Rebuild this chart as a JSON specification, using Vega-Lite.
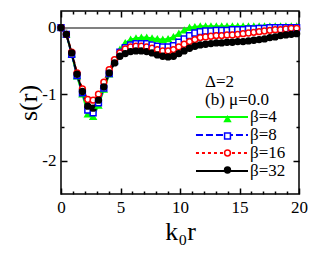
{
  "$schema": "https://vega.github.io/schema/vega-lite/v6.json",
  "width": 238,
  "height": 183,
  "autosize": "none",
  "padding": {"left": 61, "top": 11, "right": 12, "bottom": 78},
  "background": "white",
  "config": {
    "view": {"stroke": "black", "strokeWidth": 1.5},
    "axis": {"grid": false, "domain": false, "tickColor": "black", "tickWidth": 1.5, "labelFont": "Liberation Serif", "labelFontSize": 17, "labelColor": "black", "labelFlush": false, "titleFont": "Liberation Serif", "titleFontWeight": "normal", "titleColor": "black", "titleFontSize": 26},
    "legend": {"labelFont": "Liberation Serif", "titleFont": "Liberation Serif", "labelColor": "black", "titleColor": "black"}
  },
  "data": {"values": [
    {"k": 0, "β=4": 0, "β=8": 0, "β=16": 0, "β=32": 0},
    {"k": 0.45, "β=4": -0.1, "β=8": -0.1, "β=16": -0.1, "β=32": -0.1},
    {"k": 0.9, "β=4": -0.4, "β=8": -0.4, "β=16": -0.37, "β=32": -0.38},
    {"k": 1.35, "β=4": -0.73, "β=8": -0.72, "β=16": -0.68, "β=32": -0.7},
    {"k": 1.8, "β=4": -1.0, "β=8": -0.98, "β=16": -0.92, "β=32": -0.96},
    {"k": 2.25, "β=4": -1.3, "β=8": -1.24, "β=16": -1.08, "β=32": -1.18},
    {"k": 2.7, "β=4": -1.34, "β=8": -1.28, "β=16": -1.09, "β=32": -1.21},
    {"k": 3.15, "β=4": -1.17, "β=8": -1.13, "β=16": -1.0, "β=32": -1.09},
    {"k": 3.6, "β=4": -0.93, "β=8": -0.91, "β=16": -0.82, "β=32": -0.89},
    {"k": 4.05, "β=4": -0.7, "β=8": -0.69, "β=16": -0.63, "β=32": -0.68},
    {"k": 4.5, "β=4": -0.5, "β=8": -0.51, "β=16": -0.48, "β=32": -0.53},
    {"k": 4.95, "β=4": -0.33, "β=8": -0.37, "β=16": -0.38, "β=32": -0.43},
    {"k": 5.4, "β=4": -0.23, "β=8": -0.3, "β=16": -0.32, "β=32": -0.39},
    {"k": 5.85, "β=4": -0.18, "β=8": -0.26, "β=16": -0.29, "β=32": -0.36},
    {"k": 6.3, "β=4": -0.16, "β=8": -0.24, "β=16": -0.28, "β=32": -0.35},
    {"k": 6.75, "β=4": -0.15, "β=8": -0.24, "β=16": -0.28, "β=32": -0.35},
    {"k": 7.2, "β=4": -0.15, "β=8": -0.24, "β=16": -0.29, "β=32": -0.36},
    {"k": 7.65, "β=4": -0.16, "β=8": -0.26, "β=16": -0.31, "β=32": -0.38},
    {"k": 8.1, "β=4": -0.17, "β=8": -0.28, "β=16": -0.33, "β=32": -0.41},
    {"k": 8.55, "β=4": -0.18, "β=8": -0.29, "β=16": -0.35, "β=32": -0.43},
    {"k": 9.0, "β=4": -0.17, "β=8": -0.29, "β=16": -0.35, "β=32": -0.44},
    {"k": 9.45, "β=4": -0.14, "β=8": -0.27, "β=16": -0.33, "β=32": -0.43},
    {"k": 9.9, "β=4": -0.09, "β=8": -0.22, "β=16": -0.29, "β=32": -0.39},
    {"k": 10.35, "β=4": -0.04, "β=8": -0.17, "β=16": -0.25, "β=32": -0.35},
    {"k": 10.8, "β=4": 0.0, "β=8": -0.12, "β=16": -0.21, "β=32": -0.31},
    {"k": 11.25, "β=4": 0.01, "β=8": -0.08, "β=16": -0.18, "β=32": -0.28},
    {"k": 11.7, "β=4": 0.02, "β=8": -0.06, "β=16": -0.15, "β=32": -0.26},
    {"k": 12.15, "β=4": 0.02, "β=8": -0.05, "β=16": -0.14, "β=32": -0.25},
    {"k": 12.6, "β=4": 0.02, "β=8": -0.05, "β=16": -0.13, "β=32": -0.24},
    {"k": 13.05, "β=4": 0.02, "β=8": -0.04, "β=16": -0.12, "β=32": -0.23},
    {"k": 13.5, "β=4": 0.02, "β=8": -0.04, "β=16": -0.12, "β=32": -0.23},
    {"k": 13.95, "β=4": 0.02, "β=8": -0.04, "β=16": -0.11, "β=32": -0.22},
    {"k": 14.4, "β=4": 0.02, "β=8": -0.03, "β=16": -0.11, "β=32": -0.22},
    {"k": 14.85, "β=4": 0.02, "β=8": -0.03, "β=16": -0.1, "β=32": -0.21},
    {"k": 15.3, "β=4": 0.02, "β=8": -0.03, "β=16": -0.09, "β=32": -0.21},
    {"k": 15.75, "β=4": 0.02, "β=8": -0.02, "β=16": -0.08, "β=32": -0.2},
    {"k": 16.2, "β=4": 0.02, "β=8": -0.02, "β=16": -0.07, "β=32": -0.19},
    {"k": 16.65, "β=4": 0.02, "β=8": -0.01, "β=16": -0.06, "β=32": -0.18},
    {"k": 17.1, "β=4": 0.02, "β=8": -0.01, "β=16": -0.05, "β=32": -0.17},
    {"k": 17.55, "β=4": 0.02, "β=8": 0.0, "β=16": -0.04, "β=32": -0.15},
    {"k": 18.0, "β=4": 0.02, "β=8": 0.0, "β=16": -0.03, "β=32": -0.14},
    {"k": 18.45, "β=4": 0.02, "β=8": 0.0, "β=16": -0.03, "β=32": -0.12},
    {"k": 18.9, "β=4": 0.02, "β=8": 0.0, "β=16": -0.02, "β=32": -0.11},
    {"k": 19.35, "β=4": 0.02, "β=8": 0.0, "β=16": -0.01, "β=32": -0.1},
    {"k": 19.8, "β=4": 0.02, "β=8": 0.0, "β=16": -0.01, "β=32": -0.09}
  ]},
  "transform": [{"fold": ["β=4", "β=8", "β=16", "β=32"], "as": ["beta", "s"]}],
  "resolve": {"axis": {"x": "independent", "y": "independent"}},
  "layer": [
    {
      "mark": {"type": "rule", "color": "#808080", "strokeWidth": 1.5},
      "encoding": {"y": {"datum": 0, "type": "quantitative", "scale": {"domain": [-2.5, 0.25], "nice": false}, "axis": null}}
    },
    {
      "mark": {"type": "line", "strokeWidth": 2},
      "encoding": {
        "x": {"field": "k", "type": "quantitative", "scale": {"domain": [0, 20], "nice": false},
          "axis": {"orient": "bottom", "values": [0,1,2,3,4,5,6,7,8,9,10,11,12,13,14,15,16,17,18,19,20], "labelExpr": "datum.value % 5 === 0 ? datum.label : ''", "tickSize": {"condition": {"test": "datum.value % 5 === 0", "value": -6}, "value": -3}, "labelPadding": 11, "title": "k₀r", "titlePadding": 3}},
        "y": {"field": "s", "type": "quantitative", "scale": {"domain": [-2.5, 0.25], "nice": false},
          "axis": {"orient": "left", "values": [-2, -1.5, -1, -0.5, 0], "labelExpr": "datum.value % 1 === 0 ? (datum.value < 0 ? '-' + abs(datum.value) : '' + datum.value) : ''", "tickSize": {"condition": {"test": "datum.value % 1 === 0", "value": -6}, "value": -3}, "labelPadding": 11, "title": "s(r)", "titlePadding": 0}},
        "color": {"field": "beta", "type": "nominal", "scale": {"domain": ["β=4", "β=8", "β=16", "β=32"], "range": ["#00ff00", "#0000ff", "#ff0000", "#000000"]},
          "legend": {"orient": "none", "legendX": 144, "legendY": 63, "title": ["Δ=2", "(b) μ=0.0"], "titleFontSize": 17, "titleFontWeight": "normal", "titleLineHeight": 18, "titlePadding": -1.5, "labelFontSize": 17, "symbolType": "M-2.18,0H3.94", "symbolSize": 289, "symbolStrokeWidth": 2, "labelOffset": 26, "rowPadding": -5, "padding": 0}},
        "strokeDash": {"field": "beta", "type": "nominal", "scale": {"domain": ["β=4", "β=8", "β=16", "β=32"], "range": [[1, 0], [7, 3], [3, 3], [1, 0]]}}
      }
    },
    {
      "mark": {"type": "point", "strokeWidth": 1.5, "opacity": 1},
      "encoding": {
        "x": {"field": "k", "type": "quantitative", "scale": {"domain": [0, 20], "nice": false},
          "axis": {"orient": "top", "values": [0,1,2,3,4,5,6,7,8,9,10,11,12,13,14,15,16,17,18,19,20], "labels": false, "title": null, "tickSize": {"condition": {"test": "datum.value % 5 === 0", "value": -6}, "value": -3}}},
        "y": {"field": "s", "type": "quantitative", "scale": {"domain": [-2.5, 0.25], "nice": false},
          "axis": {"orient": "right", "values": [-2, -1.5, -1, -0.5, 0], "labels": false, "title": null, "tickSize": {"condition": {"test": "datum.value % 1 === 0", "value": -6}, "value": -3}}},
        "shape": {"field": "beta", "type": "nominal", "sort": {"field": "s", "op": "mean", "order": "descending"}, "scale": {"range": ["triangle-up", "square", "circle", "circle"]},
          "legend": {"orient": "none", "legendX": 158, "legendY": 99.5, "title": null, "labelExpr": "''", "labelFontSize": 17, "symbolSize": 34, "symbolStrokeWidth": 1.5, "rowPadding": -2, "padding": 0}},
        "fill": {"field": "beta", "type": "nominal", "sort": {"field": "s", "op": "mean", "order": "descending"}, "scale": {"range": ["#00ff00", "#ffffff", "#ffffff", "#000000"]}},
        "stroke": {"field": "beta", "type": "nominal", "sort": {"field": "s", "op": "mean", "order": "descending"}, "scale": {"range": ["#00ff00", "#0000ff", "#ff0000", "#000000"]}},
        "size": {"value": 34}
      }
    }
  ]
}
